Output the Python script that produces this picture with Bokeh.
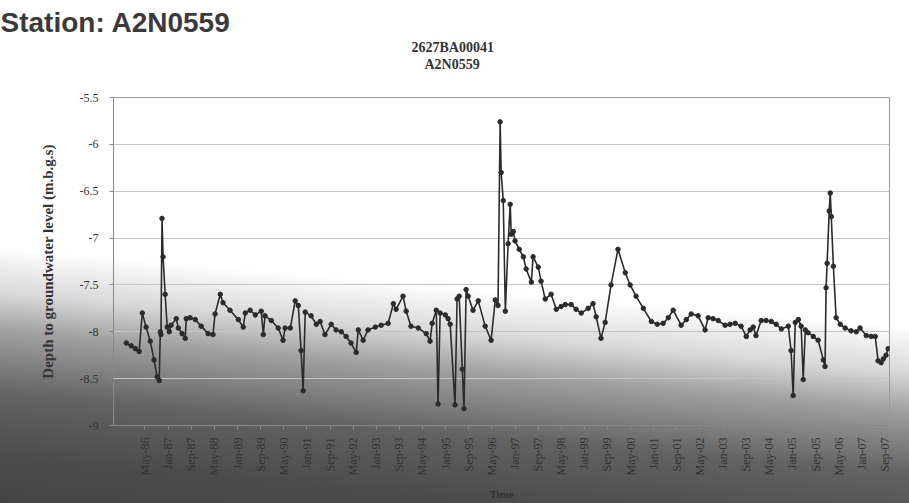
import numpy as np
import pandas as pd
from bokeh.plotting import figure
from bokeh.models import Range1d, FixedTicker, DatetimeTickFormatter, Title
from bokeh.embed import file_html
from bokeh.resources import INLINE

# ---------------- data ----------------
title_lines = ["2627BA00041", "A2N0559"]
station_text = "Station: A2N0559"
y_label = "Depth to groundwater level (m.b.g.s)"
x_label = "Time"

dec_year = [
    1985.79, 1985.93, 1986.05, 1986.16, 1986.25, 1986.36, 1986.48, 1986.59, 1986.68, 1986.74,
    1986.77, 1986.79, 1986.82, 1986.85, 1986.91, 1986.97, 1987.03, 1987.08, 1987.23, 1987.29,
    1987.40, 1987.49, 1987.52, 1987.63, 1987.78, 1987.95, 1988.15, 1988.29, 1988.35, 1988.50,
    1988.58, 1988.78, 1989.02, 1989.16, 1989.22, 1989.36, 1989.51, 1989.68, 1989.74, 1989.79,
    1989.97, 1990.17, 1990.31, 1990.37, 1990.52, 1990.66, 1990.75, 1990.83, 1990.89, 1990.95,
    1991.12, 1991.27, 1991.38, 1991.52, 1991.70, 1991.84, 1991.99, 1992.13, 1992.27, 1992.42,
    1992.48, 1992.62, 1992.76, 1992.97, 1993.14, 1993.34, 1993.49, 1993.57, 1993.77, 1993.86,
    1994.00, 1994.21, 1994.44, 1994.55, 1994.61, 1994.73, 1994.78, 1994.84, 1994.99, 1995.07,
    1995.13, 1995.27, 1995.33, 1995.39, 1995.48, 1995.53, 1995.59, 1995.65, 1995.79, 1995.94,
    1996.14, 1996.31, 1996.43, 1996.51, 1996.57, 1996.60, 1996.66, 1996.72, 1996.80, 1996.86,
    1996.89, 1996.95, 1997.00, 1997.12, 1997.24, 1997.32, 1997.47, 1997.52, 1997.67, 1997.75,
    1997.87, 1998.04, 1998.19, 1998.33, 1998.45, 1998.62, 1998.76, 1998.91, 1999.11, 1999.25,
    1999.34, 1999.48, 1999.60, 1999.77, 1999.97, 2000.18, 2000.32, 2000.49, 2000.70, 2000.93,
    2001.10, 2001.27, 2001.42, 2001.56, 2001.79, 2001.94, 2002.08, 2002.28, 2002.48, 2002.57,
    2002.71, 2002.86, 2003.06, 2003.20, 2003.35, 2003.52, 2003.67, 2003.78, 2003.87, 2003.95,
    2004.10, 2004.24, 2004.39, 2004.53, 2004.68, 2004.88, 2004.96, 2005.02, 2005.08, 2005.17,
    2005.25, 2005.31, 2005.37, 2005.45, 2005.60, 2005.74, 2005.89, 2005.94, 2005.97, 2006.00,
    2006.06, 2006.09, 2006.12, 2006.18, 2006.26, 2006.38, 2006.52, 2006.69, 2006.84, 2006.95,
    2007.13, 2007.27, 2007.39, 2007.47, 2007.56, 2007.62, 2007.70, 2007.76,
]

depth = [
    -8.12, -8.15, -8.18, -8.21, -7.80, -7.95, -8.10, -8.30, -8.48, -8.52,
    -8.00, -8.03, -6.79, -7.20, -7.60, -7.95, -8.00, -7.93, -7.86, -7.96,
    -8.02, -8.07, -7.86, -7.85, -7.87, -7.94, -8.02, -8.03, -7.81, -7.60,
    -7.69, -7.77, -7.87, -7.95, -7.80, -7.77, -7.82, -7.78, -8.03, -7.83,
    -7.88, -7.96, -8.09, -7.96, -7.96, -7.67, -7.72, -8.20, -8.63, -7.79,
    -7.83, -7.92, -7.89, -8.03, -7.92, -7.98, -8.00, -8.05, -8.12, -8.22,
    -7.98, -8.09, -7.98, -7.95, -7.93, -7.91, -7.70, -7.76, -7.62, -7.78,
    -7.94, -7.96, -8.02, -8.10, -7.91, -7.77, -8.77, -7.80, -7.82, -7.86,
    -7.92, -8.78, -7.65, -7.62, -8.40, -8.82, -7.55, -7.62, -7.77, -7.67,
    -7.94, -8.09, -7.66, -7.72, -5.76, -6.30, -6.60, -7.78, -7.06, -6.64,
    -6.96, -6.93, -7.03, -7.12, -7.20, -7.33, -7.47, -7.20, -7.31, -7.46,
    -7.65, -7.60, -7.76, -7.73, -7.71, -7.71, -7.76, -7.80, -7.75, -7.70,
    -7.84, -8.07, -7.90, -7.50, -7.12, -7.37, -7.50, -7.62, -7.75, -7.89,
    -7.92, -7.91, -7.85, -7.77, -7.93, -7.87, -7.81, -7.83, -7.98, -7.85,
    -7.86, -7.88, -7.93, -7.92, -7.91, -7.94, -8.05, -7.98, -7.95, -8.04,
    -7.88, -7.88, -7.89, -7.92, -7.97, -7.94, -8.20, -8.68, -7.90, -7.87,
    -7.94, -8.51, -7.98, -8.01, -8.05, -8.09, -8.30, -8.37, -7.53, -7.27,
    -6.71, -6.52, -6.77, -7.30, -7.85, -7.92, -7.96, -7.99, -8.00, -7.96,
    -8.04, -8.05, -8.05, -8.31, -8.33, -8.29, -8.25, -8.18,
]

x_tick_labels = [
    "May-86", "Jan-87", "Sep-87", "May-88", "Jan-89", "Sep-89", "May-90", "Jan-91",
    "Sep-91", "May-92", "Jan-93", "Sep-93", "May-94", "Jan-95", "Sep-95", "May-96",
    "Jan-97", "Sep-97", "May-98", "Jan-99", "Sep-99", "May-00", "Jan-01", "Sep-01",
    "May-02", "Jan-03", "Sep-03", "May-04", "Jan-05", "Sep-05", "May-06", "Jan-07",
    "Sep-07",
]
y_ticks = [-9, -8.5, -8, -7.5, -7, -6.5, -6, -5.5]
y_tick_labels = ["-9", "-8.5", "-8", "-7.5", "-7", "-6.5", "-6", "-5.5"]


def to_dt(yf):
    y = int(np.floor(yf))
    start = pd.Timestamp(year=y, month=1, day=1)
    end = pd.Timestamp(year=y + 1, month=1, day=1)
    return start + (end - start) * (yf - y)


dates = [to_dt(v) for v in dec_year]
tick_ms = [pd.to_datetime(l, format="%b-%y").value / 1e6 for l in x_tick_labels]

SERIF = "Liberation Serif"
LINE_C = "#2b2b2b"

p = figure(
    width=909, height=503,
    x_axis_type="datetime",
    output_backend="svg", toolbar_location=None,
    x_range=Range1d(to_dt(1985.42), to_dt(2007.80)),
    y_range=Range1d(-9, -5.5),
    min_border_left=113, min_border_right=20, min_border_top=97, min_border_bottom=78,
)
p.styles = {"background": "linear-gradient(185deg, #ffffff 0%, #ffffff 56%, #d8d8d8 64%, "
                          "#a0a0a0 70.5%, #626262 81.5%, #4c4c4c 92%, #444444 100%)"}
p.background_fill_alpha = 0
p.border_fill_alpha = 0
p.outline_line_color = "#9a9a9a"

p.line(dates, depth, line_color=LINE_C, line_width=1.6)
p.scatter(dates, depth, size=4.5, fill_color=LINE_C, line_color=LINE_C)

# panel above the frame, stacked from the frame outwards
p.add_layout(Title(text=" ", standoff=9, text_font=SERIF, text_font_size="14px"), "above")
p.add_layout(Title(text=title_lines[1], align="left", offset=311, standoff=0,
                   text_font=SERIF, text_font_size="14px",
                   text_font_style="bold", text_color="#333333"), "above")
p.add_layout(Title(text=title_lines[0], align="left", offset=298, standoff=0,
                   text_font=SERIF, text_font_size="14px",
                   text_font_style="bold", text_color="#333333"), "above")
p.add_layout(Title(text=station_text, align="left", offset=-113, standoff=0,
                   text_font="Liberation Sans", text_font_size="28px",
                   text_font_style="bold", text_color="#3a3a3a"), "above")

# axes
p.xaxis.ticker = FixedTicker(ticks=tick_ms)
fmt = "%b-%y"
p.xaxis.formatter = DatetimeTickFormatter(years=fmt, months=fmt, days=fmt, hours=fmt,
                                          hourmin=fmt, minutes=fmt, minsec=fmt, seconds=fmt,
                                          milliseconds=fmt)
p.xaxis.major_label_orientation = np.pi / 2
p.xaxis.axis_label = x_label
p.yaxis.axis_label = y_label
p.yaxis.ticker = FixedTicker(ticks=y_ticks)
p.yaxis.major_label_overrides = {t: l for t, l in zip(y_ticks, y_tick_labels)}

for ax in (p.xaxis, p.yaxis):
    ax.axis_line_color = "#888888"
    ax.major_tick_line_color = "#888888"
    ax.major_tick_out = 4
    ax.major_tick_in = 0
    ax.minor_tick_line_color = None
    ax.major_label_text_font = SERIF
    ax.major_label_text_color = "#333333"
    ax.axis_label_text_font = SERIF
    ax.axis_label_text_font_style = "bold"
    ax.axis_label_text_color = "#333333"

p.xaxis.major_label_text_font_size = "12px"
p.xaxis.major_label_standoff = 8
p.xaxis.axis_label_text_font_size = "11px"
p.xaxis.axis_label_standoff = 10
p.yaxis.major_label_text_font_size = "12px"
p.yaxis.major_label_standoff = 11
p.yaxis.axis_label_text_font_size = "15px"
p.yaxis.axis_label_standoff = 21

p.xgrid.grid_line_color = None
p.ygrid.grid_line_color = "#c4c4c4"
p.ygrid.grid_line_width = 1

open("out.html", "w").write(file_html(p, INLINE))
